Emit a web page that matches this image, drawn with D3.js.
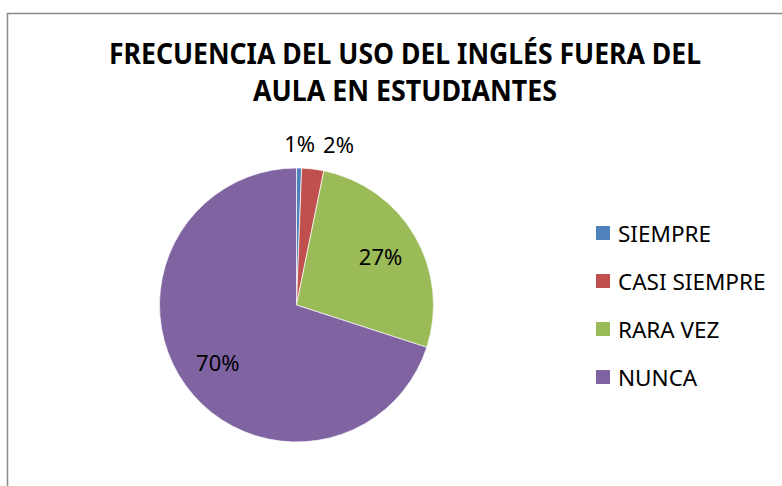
<!DOCTYPE html>
<html>
<head>
<meta charset="utf-8">
<script src="https://cdn.jsdelivr.net/npm/d3@7"></script>
<style>
  body { margin: 0; background: #fff; }
  svg { display: block; font-family: "Noto Sans", "Open Sans", sans-serif; }
</style>
</head>
<body>
<div id="chart"></div>
<script>
// data
var categories = ["SIEMPRE", "CASI SIEMPRE", "RARA VEZ", "NUNCA"];
var values = [0.6, 2.6, 26.8, 70.0];
var labels = ["1%", "2%", "27%", "70%"];
var colors = ["#4F81BD", "#C0504D", "#9BBB59", "#8064A2"];
var titleLines = ["FRECUENCIA DEL USO DEL INGLÉS FUERA DEL", "AULA EN ESTUDIANTES"];

var width = 782, height = 486;
var cx = 296.5, cy = 305, radius = 137;

var svg = d3.select("#chart").append("svg")
    .attr("width", width)
    .attr("height", height);

// chart area border (runs off the right and bottom edges)
svg.append("rect")
    .attr("x", 7.5)
    .attr("y", 13.5)
    .attr("width", 800)
    .attr("height", 500)
    .attr("fill", "none")
    .attr("stroke", "#8a8a8a")
    .attr("stroke-width", 1.5);

// title
var titleWidths = [592, 304];
svg.selectAll("text.title")
    .data(titleLines)
    .enter()
    .append("text")
    .attr("class", "title")
    .attr("x", 405)
    .attr("y", function(d, i) { return 64 + i * 36.5; })
    .attr("text-anchor", "middle")
    .attr("font-size", 28)
    .attr("font-weight", "bold")
    .attr("fill", "#000")
    .attr("textLength", function(d, i) { return titleWidths[i]; })
    .attr("lengthAdjust", "spacingAndGlyphs")
    .text(function(d) { return d; });

var pie = d3.pie().sort(null).value(function(d) { return d; });
var arcs = pie(values);

var arc = d3.arc().innerRadius(0).outerRadius(radius);
var inLabelArc = d3.arc().innerRadius(radius * 0.71).outerRadius(radius * 0.71);
var outLabelArc = d3.arc().innerRadius(radius + 25).outerRadius(radius + 25);

var g = svg.append("g").attr("transform", "translate(" + cx + "," + cy + ")");

g.selectAll("path")
    .data(arcs)
    .enter()
    .append("path")
    .attr("d", arc)
    .attr("fill", function(d, i) { return colors[i]; })
    .attr("stroke", "#fff")
    .attr("stroke-width", 0.7);

// labels: small slices go outside, pushed right so they don't overlap
var labelW = 31, gap = 8;
var lastRight = -Infinity;
var labelPos = arcs.map(function(d, i) {
    var share = (d.endAngle - d.startAngle) / (2 * Math.PI);
    if (share < 0.05) {
        var c = outLabelArc.centroid(d);
        var x = Math.max(c[0], lastRight + gap + labelW / 2);
        lastRight = x + labelW / 2;
        return [x, c[1]];
    }
    return inLabelArc.centroid(d);
});

g.selectAll("text.lbl")
    .data(arcs)
    .enter()
    .append("text")
    .attr("class", "lbl")
    .attr("x", function(d, i) { return labelPos[i][0]; })
    .attr("y", function(d, i) { return labelPos[i][1]; })
    .attr("text-anchor", "middle")
    .attr("dominant-baseline", "central")
    .attr("font-size", 22)
    .attr("fill", "#000")
    .text(function(d, i) { return labels[i]; });

// legend
var legend = svg.append("g").attr("transform", "translate(596,233)");
var item = legend.selectAll("g")
    .data(categories)
    .enter()
    .append("g")
    .attr("transform", function(d, i) { return "translate(0," + (i * 48) + ")"; });

item.append("rect")
    .attr("x", 0)
    .attr("y", -7)
    .attr("width", 14)
    .attr("height", 14)
    .attr("fill", function(d, i) { return colors[i]; });

item.append("text")
    .attr("x", 22)
    .attr("y", 0)
    .attr("dominant-baseline", "central")
    .attr("font-size", 22.5)
    .attr("fill", "#000")
    .text(function(d) { return d; });
</script>
</body>
</html>
